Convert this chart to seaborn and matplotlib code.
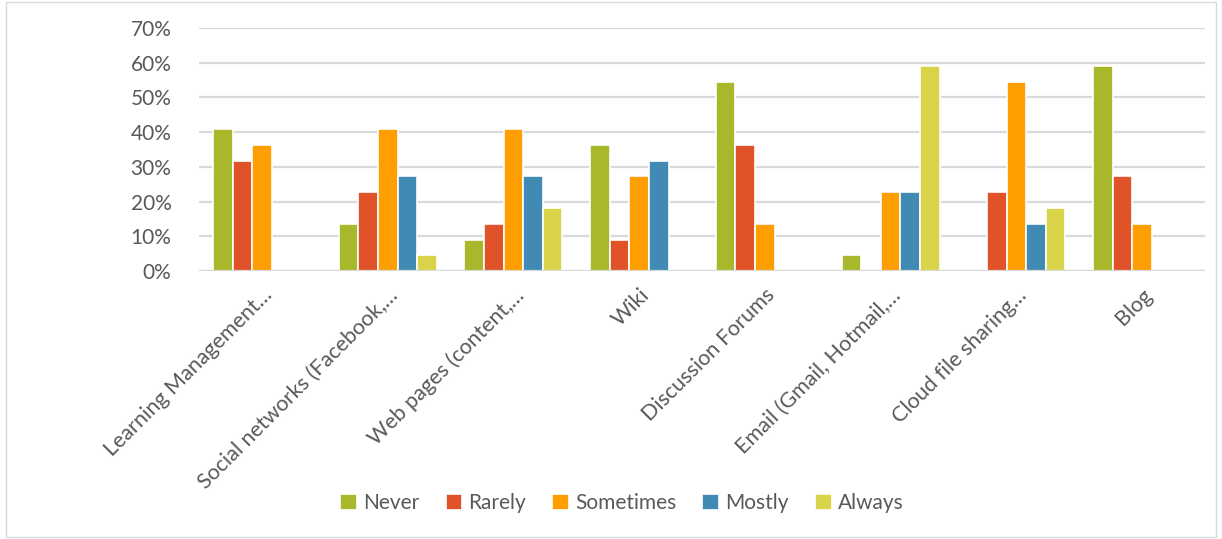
import pandas as pd
import seaborn as sns
import matplotlib.pyplot as plt
from matplotlib.patches import Rectangle
from matplotlib.ticker import PercentFormatter

categories = ['Learning Management…', 'Social networks (Facebook,…', 'Web pages (content,…',
              'Wiki', 'Discussion Forums', 'Email (Gmail, Hotmail,…', 'Cloud file sharing…', 'Blog']
levels = ['Never', 'Rarely', 'Sometimes', 'Mostly', 'Always']

never = [0.409, 0.136, 0.091, 0.364, 0.545, 0.045, 0.0, 0.591]
rarely = [0.318, 0.227, 0.136, 0.091, 0.364, 0.0, 0.227, 0.273]
sometimes = [0.364, 0.409, 0.409, 0.273, 0.136, 0.227, 0.545, 0.136]
mostly = [0.0, 0.273, 0.273, 0.318, 0.0, 0.227, 0.136, 0.0]
always = [0.0, 0.045, 0.182, 0.0, 0.0, 0.591, 0.182, 0.0]

colors = ['#A8B82A', '#E05328', '#FF9E00', '#418AB3', '#D9D34A']


def build_frame():
    rows = []
    for level, vals in zip(levels, [never, rarely, sometimes, mostly, always]):
        for cat, v in zip(categories, vals):
            rows.append({'tool': cat, 'freq': level, 'share': v})
    return pd.DataFrame(rows)


df = build_frame()

sns.set_style('white')
plt.rcParams['font.family'] = ['Lato', 'DejaVu Sans']
text_color = '#595959'
grid_color = '#D9D9D9'

fig = plt.figure(figsize=(12.22, 5.39), dpi=100)
ax = fig.add_axes([0.163, 0.497, 0.823, 0.451])

sns.barplot(data=df, x='tool', y='share', hue='freq', order=categories, hue_order=levels,
            palette=colors, saturation=1, width=0.78, edgecolor='white', linewidth=1.2, ax=ax)

ax.set_ylim(0, 0.7)
ax.set_yticks([i / 10 for i in range(8)])
ax.yaxis.set_major_formatter(PercentFormatter(1.0, decimals=0))
ax.yaxis.grid(True, color=grid_color, linewidth=1.6)
ax.set_axisbelow(True)
ax.axhline(0, color=grid_color, linewidth=1.6, zorder=3)
sns.despine(ax=ax, left=True, bottom=True)
ax.set_xlabel('')
ax.set_ylabel('')
ax.tick_params(axis='y', labelsize=15, colors=text_color, pad=20, length=0)
ax.tick_params(axis='x', labelsize=15.5, colors=text_color, length=0, pad=10)
plt.setp(ax.get_xticklabels(), rotation=45, ha='right', rotation_mode='anchor')

ax.legend(loc='center', bbox_to_anchor=(0.509, 0.066), bbox_transform=fig.transFigure,
          ncol=5, frameon=False, fontsize=15, handlelength=0.8, handleheight=0.8,
          handletextpad=0.3, columnspacing=1.25, labelcolor=text_color)

fig.patches.append(Rectangle((0.005, 0.003), 0.99, 0.994, transform=fig.transFigure,
                             fill=False, edgecolor=grid_color, linewidth=1))

fig.savefig('out.png', dpi=100)
